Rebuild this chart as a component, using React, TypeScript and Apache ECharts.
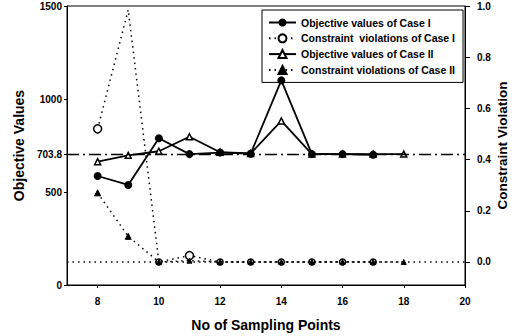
import React, { useEffect, useRef } from "react";
import * as echarts from "echarts";

const pointsCaseI = [8, 9, 10, 11, 12, 13, 14, 15, 16, 17];
const pointsCaseII = [8, 9, 10, 11, 12, 13, 14, 15, 16, 17, 18];
const objCaseI = [586, 538, 789, 703.8, 712, 706, 1100, 703.8, 703.8, 700];
const objCaseII = [663, 697, 719, 797, 714, 707, 882, 703.8, 703.8, 703.8, 703.8];
const conCaseI = [0.52, 0.985, 0, 0.025, 0, 0, 0, 0, 0, 0];
const conCaseII = [0.27, 0.1, 0, 0.005, 0, 0, 0, 0, 0, 0, 0];
const targetValue = 703.8;
const xTicks = [8, 10, 12, 14, 16, 18, 20];
const leftTicks = [0, 500, 703.8, 1000, 1500];
const rightTicks = [0, 0.2, 0.4, 0.6, 0.8, 1.0];
const seriesNames = [
  "Objective values of Case I",
  "Constraint  violations of Case I",
  "Objective values of Case II",
  "Constraint violations of Case II",
];

const FONT = "'Liberation Sans', Arial, Helvetica, sans-serif";

export default function App() {
  const ref = useRef<HTMLDivElement>(null);
  useEffect(() => {
    if (!ref.current) return;
    const chart = echarts.init(ref.current, null, { renderer: "svg" });
    const pair = (xs: number[], ys: number[]) => xs.map((x, i) => [x, ys[i]]);
    const conIData = pair(pointsCaseI, conCaseI).map((p) =>
      p[1] > 0.9 ? { value: p, symbol: "none" } : p[1] === 0 ? { value: p, symbolSize: 6 } : { value: p }
    );
    const conIIData = pair(pointsCaseII, conCaseII).map((p) =>
      p[1] < 0.05 ? { value: p, symbolSize: 5 } : { value: p }
    );
    const axisLabelStyle = { color: "#000", fontSize: 10, fontWeight: "bold", fontFamily: FONT };
    const nameStyle = { color: "#000", fontSize: 14, fontWeight: "bold", fontFamily: FONT };
    chart.setOption({
      animation: false,
      backgroundColor: "#fff",
      grid: {
        left: 67,
        right: 49,
        top: 6,
        bottom: 51,
        show: true,
        borderColor: "#000",
        borderWidth: 1,
        outerBoundsMode: "none",
      },
      legend: {
        orient: "vertical",
        left: 262,
        top: 10,
        itemWidth: 27,
        itemHeight: 10,
        itemGap: 4.8,
        padding: [7, 8, 7, 6],
        borderColor: "#000",
        borderWidth: 1,
        backgroundColor: "#fff",
        textStyle: { fontSize: 10.5, fontWeight: "bold", color: "#000", fontFamily: FONT, lineHeight: 10 },
        data: seriesNames,
      },
      xAxis: {
        type: "value",
        min: 7,
        max: 20,
        name: "No of Sampling Points",
        nameLocation: "middle",
        nameGap: 33,
        nameMoveOverlap: false,
        nameTextStyle: nameStyle,
        axisLine: { show: true, lineStyle: { color: "#000", width: 1 } },
        axisTick: { show: true, length: 3, customValues: xTicks, lineStyle: { color: "#000" } },
        axisLabel: { ...axisLabelStyle, margin: 11, customValues: xTicks },
        splitLine: { show: false },
      },
      yAxis: [
        {
          type: "value",
          min: 0,
          max: 1500,
          name: "Objective Values",
          nameLocation: "middle",
          nameGap: 41,
          nameMoveOverlap: false,
          nameTextStyle: nameStyle,
          axisLine: { show: true, lineStyle: { color: "#000", width: 1 } },
          axisTick: { show: true, length: 3, customValues: leftTicks, lineStyle: { color: "#000" } },
          axisLabel: { ...axisLabelStyle, margin: 5, customValues: leftTicks, formatter: (v: number) => String(v) },
          splitLine: { show: false },
        },
        {
          type: "value",
          min: -0.09,
          max: 1.0,
          name: "Constraint Violation",
          nameLocation: "middle",
          nameGap: 30,
          nameMoveOverlap: false,
          nameTextStyle: { ...nameStyle, fontSize: 13.5 },
          position: "right",
          axisLine: { show: true, lineStyle: { color: "#000", width: 1 } },
          axisTick: { show: true, length: 5, customValues: rightTicks, lineStyle: { color: "#000" } },
          axisLabel: { ...axisLabelStyle, margin: 12, customValues: rightTicks, formatter: (v: number) => v.toFixed(1) },
          splitLine: { show: false },
        },
      ],
      series: [
        {
          name: seriesNames[0],
          type: "line",
          yAxisIndex: 0,
          data: pair(pointsCaseI, objCaseI),
          symbol: "circle",
          symbolSize: 8,
          itemStyle: { color: "#000" },
          lineStyle: { color: "#000", width: 1.8, type: "solid" },
          z: 5,
          markLine: {
            silent: true,
            symbol: "none",
            label: { show: false },
            lineStyle: { color: "#000", width: 1.3, type: [12, 4, 2, 4] },
            data: [{ yAxis: targetValue }],
          },
        },
        {
          name: seriesNames[1],
          type: "line",
          yAxisIndex: 1,
          data: conIData,
          symbol: "circle",
          symbolSize: 8,
          itemStyle: { color: "#fff", borderColor: "#000", borderWidth: 1.5 },
          lineStyle: { color: "#000", width: 1.5, type: [1.5, 4] },
          z: 4,
          markLine: {
            silent: true,
            symbol: "none",
            label: { show: false },
            lineStyle: { color: "#000", width: 1.5, type: [1.5, 4] },
            data: [{ yAxis: 0 }],
          },
        },
        {
          name: seriesNames[2],
          type: "line",
          yAxisIndex: 0,
          data: pair(pointsCaseII, objCaseII),
          symbol: "triangle",
          symbolSize: 6,
          itemStyle: { color: "#fff", borderColor: "#000", borderWidth: 1.5 },
          lineStyle: { color: "#000", width: 1.8, type: "solid" },
          z: 4,
        },
        {
          name: seriesNames[3],
          type: "line",
          yAxisIndex: 1,
          data: conIIData,
          symbol: "triangle",
          symbolSize: 6,
          itemStyle: { color: "#000", borderColor: "#000", borderWidth: 1 },
          lineStyle: { color: "#000", width: 1.5, type: [1.5, 4] },
          z: 4,
        },
      ],
    });
    return () => chart.dispose();
  }, []);
  return <div ref={ref} style={{ width: 514, height: 336, position: "absolute", left: 0, top: 0 }} />;
}
